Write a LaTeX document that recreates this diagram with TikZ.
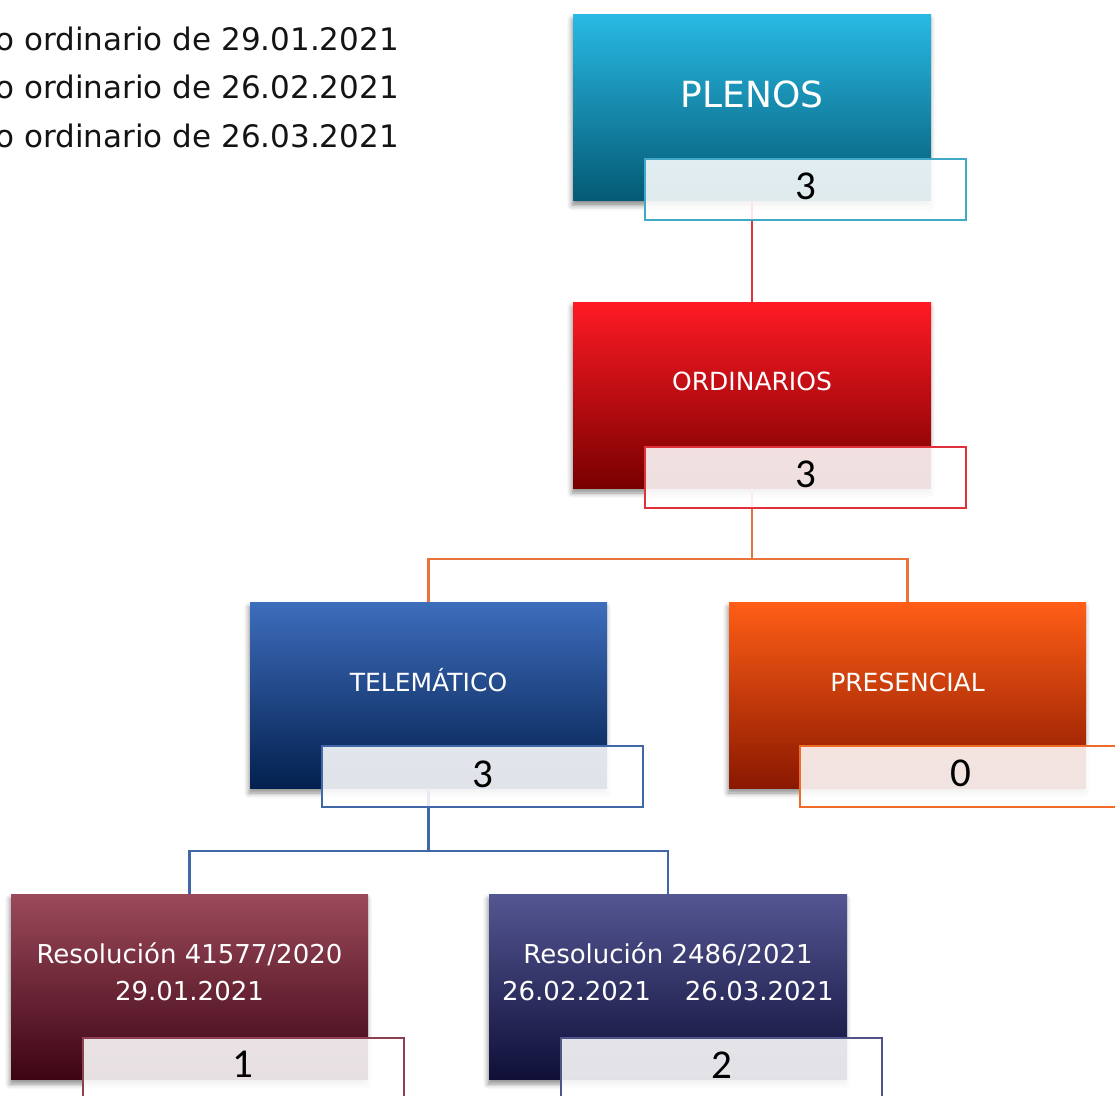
\documentclass[tikz,border=0pt]{standalone}
\usepackage{fontspec}
\setmainfont{DejaVu Sans}
\newfontfamily\numfont{Carlito}
\usetikzlibrary{shadows.blur}
\definecolor{plTop}{HTML}{29B9E3}
\definecolor{plMid}{HTML}{0A8FB7}
\definecolor{plBot}{HTML}{045A75}
\definecolor{orTop}{HTML}{FF1A24}
\definecolor{orMid}{HTML}{D40000}
\definecolor{orBot}{HTML}{780000}
\definecolor{teTop}{HTML}{3E6DBC}
\definecolor{teMid}{HTML}{174593}
\definecolor{teBot}{HTML}{03204F}
\definecolor{prTop}{HTML}{FF5E16}
\definecolor{prMid}{HTML}{EA4200}
\definecolor{prBot}{HTML}{8A1800}
\definecolor{raTop}{HTML}{9B4A5A}
\definecolor{raMid}{HTML}{6A1A2E}
\definecolor{raBot}{HTML}{3D0414}
\definecolor{rbTop}{HTML}{545692}
\definecolor{rbMid}{HTML}{25265E}
\definecolor{rbBot}{HTML}{0F0F38}
\definecolor{plLine}{HTML}{41A9C8}
\definecolor{orLine}{HTML}{E0303A}
\definecolor{teLine}{HTML}{4068A8}
\definecolor{prLine}{HTML}{F06A28}
\definecolor{raLine}{HTML}{8C4050}
\definecolor{rbLine}{HTML}{505488}
\definecolor{cOrange}{HTML}{E8743B}
\begin{document}
\begin{tikzpicture}[x=1pt,y=-1pt,
  mainbox/.style={rectangle, minimum width=358pt, minimum height=186pt, inner sep=0pt,
    blur shadow={shadow xshift=-1pt, shadow yshift=-5pt, shadow blur radius=5pt, shadow opacity=45}},
  cntbox/.style={rectangle, draw=#1, line width=2pt, fill=white, fill opacity=0.88,
    minimum width=321pt, minimum height=61pt, inner sep=0pt},
  conn/.style={draw=#1, line width=2.2pt},
  lbl/.style={text=white, font=\fontsize{25}{30}\selectfont, anchor=base, inner sep=0pt},
  reslbl/.style={text=white, font=\fontsize{26}{30}\selectfont, anchor=base, inner sep=0pt},
  num/.style={font=\numfont\fontsize{41}{41}\selectfont, anchor=base, text=black, inner sep=0pt},
  side/.style={font=\fontsize{31}{36}\selectfont, anchor=base east, text=black!92, inner sep=0pt}]
\useasboundingbox (0,0) rectangle (1115,1095);

% side text
\node[side] (s1) at (399,50) {o ordinario de 29.01.2021};
\node[side] (s2) at (399,98) {o ordinario de 26.02.2021};
\node[side] (s3) at (399,147) {o ordinario de 26.03.2021};

% main boxes
\node[mainbox, top color=plTop, middle color=plMid, bottom color=plBot] (plenos) at (752,107.5) {};
\node[mainbox, top color=orTop, middle color=orMid, bottom color=orBot] (ordin) at (752,395) {};
\node[mainbox, minimum width=357pt, top color=teTop, middle color=teMid, bottom color=teBot] (tele) at (428.5,695) {};
\node[mainbox, minimum width=357pt, top color=prTop, middle color=prMid, bottom color=prBot] (pres) at (907.5,695) {};
\node[mainbox, minimum width=357pt, minimum height=185pt, top color=raTop, middle color=raMid, bottom color=raBot] (res1) at (189.5,986.5) {};
\node[mainbox, minimum height=185pt, top color=rbTop, middle color=rbMid, bottom color=rbBot] (res2) at (668,986.5) {};

% connectors
\draw[conn=orLine] (plenos.south) -- (ordin.north);
\draw[conn=cOrange] (ordin.south) -- ++(0,71) -| (tele.north);
\draw[conn=cOrange] (ordin.south) -- ++(0,71) -| (pres.north);
\draw[conn=teLine] (tele.south) -- ++(0,63) -| (res1.north);
\draw[conn=teLine] (tele.south) -- ++(0,63) -| (res2.north);

% count boxes
\node[cntbox=plLine] (plenosN) at (805.5,189.5) {};
\node[cntbox=orLine] (ordinN) at (805.5,477) {};
\node[cntbox=teLine] (teleN) at (482.5,776.5) {};
\node[cntbox=prLine] (presN) at (960.5,776.5) {};
\node[cntbox=raLine] (res1N) at (243,1068) {};
\node[cntbox=rbLine] (res2N) at (721.5,1068) {};

% labels
\node[lbl, font=\fontsize{36}{40}\selectfont] (plenosT) at (752,107) {PLENOS};
\node[lbl] (ordinT) at (752,390) {ORDINARIOS};
\node[lbl] (teleT) at (428.5,691) {TELEMÁTICO};
\node[lbl] (presT) at (907.5,691) {PRESENCIAL};
\node[reslbl] (res1a) at (189.5,963) {Resolución 41577/2020};
\node[reslbl] (res1b) at (189.5,1000) {29.01.2021};
\node[reslbl] (res2a) at (668,963) {Resolución 2486/2021};
\node[reslbl] (res2b) at (668,1000) {26.02.2021\hspace{34pt}26.03.2021};

% numbers
\node[num] (plenosV) at (805.5,199) {3};
\node[num] (ordinV) at (805.5,487) {3};
\node[num] (teleV) at (482.5,787) {3};
\node[num] (presV) at (960.5,786) {0};
\node[num] (res1V) at (243,1077) {1};
\node[num] (res2V) at (721.5,1078) {2};
\end{tikzpicture}
\end{document}
